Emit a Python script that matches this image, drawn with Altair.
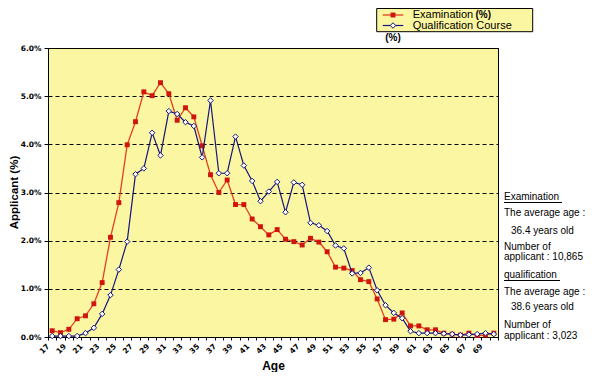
import altair as alt
import pandas as pd

ages = list(range(17, 71))
exam_pct = [0.13, 0.09, 0.16, 0.38, 0.44, 0.69, 1.13, 2.07, 2.79, 3.99,
            4.47, 5.09, 5.01, 5.28, 5.05, 4.50, 4.76, 4.57, 3.97, 3.37,
            3.00, 3.26, 2.75, 2.75, 2.45, 2.29, 2.12, 2.23, 2.03, 1.98,
            1.91, 2.05, 1.97, 1.77, 1.45, 1.43, 1.38, 1.19, 1.15, 0.79,
            0.36, 0.37, 0.50, 0.23, 0.23, 0.15, 0.15, 0.08, 0.06, 0.04,
            0.08, 0.03, 0.04, 0.08]
qual_pct = [0.02, 0.02, 0.02, 0.02, 0.08, 0.19, 0.48, 0.87, 1.40, 1.98,
            3.38, 3.50, 4.24, 3.77, 4.69, 4.63, 4.46, 4.38, 3.73, 4.91,
            3.40, 3.40, 4.16, 3.56, 3.24, 2.82, 3.02, 3.22, 2.59, 3.21,
            3.16, 2.37, 2.32, 2.20, 1.90, 1.84, 1.32, 1.33, 1.44, 0.97,
            0.66, 0.50, 0.39, 0.12, 0.08, 0.08, 0.08, 0.07, 0.06, 0.04,
            0.05, 0.06, 0.08, 0.06]
y_ticks = [0, 1, 2, 3, 4, 5, 6]
x_bounds = [a - 0.5 for a in range(17, 72)]

# side notes
note_text = ["Examination", "The average age :", "36.4 years old", "Number of",
             "applicant : 10,865", "qualification", "The average age :",
             "38.6 years old", "Number of", "applicant  : 3,023"]
note_x = [456, 456, 463, 456, 456, 456, 456, 463, 456, 456]
note_y = [149, 165, 182.7, 198.7, 209.3, 227, 244, 259, 277, 287.7]

YELLOW = "#FBF6A2"
RED_LINE = "#E4401E"
RED_MARK = "#D0140E"
NAVY = "#16167E"
FONT = "Liberation Sans"

df = pd.DataFrame({"age": ages, "exam": exam_pct, "qual": qual_pct})
notes = pd.DataFrame({"t": note_text, "px": note_x, "py": note_y})

x_enc = alt.X("age:Q",
              scale=alt.Scale(domain=[16.5, 70.5], nice=False, zero=False),
              axis=alt.Axis(values=x_bounds, title="Age",
                            labelExpr="(datum.value % 2 == 0.5 && datum.value < 70) ? '' + (datum.value + 0.5) : ''",
                            labelAngle=-45, labelAlign="right", labelBaseline="middle",
                            labelOverlap=False, labelFlush=False, labelPadding=5,
                            labelFont="DejaVu Sans", labelFontSize=7.5, labelFontWeight="bold",
                            labelColor="black", tickSize=3, tickColor="black",
                            domainColor="black", grid=False,
                            titleFont=FONT, titleFontSize=12, titleFontWeight="bold",
                            titleColor="black", titleY=32, titleBaseline="alphabetic"))


def y_enc(field):
    return alt.Y(f"{field}:Q",
                 scale=alt.Scale(domain=[0, 6], nice=False, zero=True),
                 axis=alt.Axis(values=y_ticks, title="Applicant (%)",
                               labelExpr="format(datum.value, '.1f') + '%'",
                               labelFont="DejaVu Sans", labelFontSize=7.5, labelFontWeight="bold",
                               labelColor="black", labelPadding=3, tickSize=4,
                               tickColor="black", domainColor="black",
                               grid=True, gridColor="black", gridDash=[4, 3], gridWidth=1,
                               titleFont=FONT, titleFontSize=11.5, titleFontWeight="bold",
                               titleColor="black", titleX=-33.5, titleY=144,
                               titleAngle=-90, titleAlign="center", titleBaseline="middle"))


base = alt.Chart(df)
exam_line = base.mark_line(color=RED_LINE, strokeWidth=1.3).encode(x=x_enc, y=y_enc("exam"))
exam_pts = base.mark_point(shape="square", filled=True, color=RED_MARK, size=24, opacity=1).encode(
    x=x_enc, y=y_enc("exam"))
qual_line = base.mark_line(color=NAVY, strokeWidth=1.2).encode(x=x_enc, y=y_enc("qual"))
qual_pts = base.mark_point(shape="diamond", filled=True, fill="white", stroke=NAVY,
                           strokeWidth=1, size=30, opacity=1).encode(x=x_enc, y=y_enc("qual"))

one = alt.Data(values=[{}])

note_layer = alt.Chart(notes).mark_text(align="left", baseline="middle", font=FONT,
                                        fontSize=10, color="black").encode(
    x=alt.X("px:Q", scale=None), y=alt.Y("py:Q", scale=None), text="t:N")
ul1 = alt.Chart(one).mark_rule(color="black", strokeWidth=1).encode(
    x=alt.value(456), x2=alt.value(514), y=alt.value(154.5))
ul2 = alt.Chart(one).mark_rule(color="black", strokeWidth=1).encode(
    x=alt.value(456), x2=alt.value(512), y=alt.value(232.5))

# legend box
leg_box = alt.Chart(one).mark_rect(fill=YELLOW, stroke="black", strokeWidth=1).encode(
    x=alt.value(328.7), x2=alt.value(484.7), y=alt.value(-39.5), y2=alt.value(-16.3))
leg_l1 = alt.Chart(one).mark_rule(color=RED_LINE, strokeWidth=1.3).encode(
    x=alt.value(334.7), x2=alt.value(355.3), y=alt.value(-33))
leg_p1 = alt.Chart(one).mark_point(shape="square", filled=True, color=RED_MARK, size=24, opacity=1).encode(
    x=alt.value(345), y=alt.value(-33))
leg_l2 = alt.Chart(one).mark_rule(color=NAVY, strokeWidth=1.2).encode(
    x=alt.value(334.7), x2=alt.value(355.3), y=alt.value(-22.5))
leg_p2 = alt.Chart(one).mark_point(shape="diamond", filled=True, fill="white", stroke=NAVY,
                                   strokeWidth=1, size=30, opacity=1).encode(
    x=alt.value(345), y=alt.value(-22.5))
leg_t1 = alt.Chart(one).mark_text(text="Examination", align="left", baseline="middle", font=FONT,
                                  fontSize=11, color="black").encode(x=alt.value(364.7), y=alt.value(-33))
leg_t1b = alt.Chart(one).mark_text(text="(%)", align="left", baseline="middle", font=FONT,
                                   fontSize=10, fontWeight="bold", color="black").encode(
    x=alt.value(427.5), y=alt.value(-33))
leg_t2 = alt.Chart(one).mark_text(text="Qualification Course", align="left", baseline="middle", font=FONT,
                                  fontSize=11, color="black").encode(x=alt.value(364.7), y=alt.value(-22.5))
leg_t3 = alt.Chart(one).mark_text(text="(%)", align="center", baseline="middle", font=FONT,
                                  fontSize=10, fontWeight="bold", color="black").encode(
    x=alt.value(345), y=alt.value(-10.2))

chart = alt.layer(
    exam_line, exam_pts, qual_line, qual_pts,
    note_layer, ul1, ul2,
    leg_box, leg_l1, leg_p1, leg_l2, leg_p2, leg_t1, leg_t1b, leg_t2, leg_t3,
).properties(
    width=450, height=289,
    autosize=alt.AutoSizeParams(type="none"),
    padding={"left": 40, "top": 40, "right": 91, "bottom": 35},
    background="white",
).configure_view(
    fill=YELLOW, stroke="black", strokeWidth=1
)

chart.save("out.html", embed_options={"renderer": "svg", "actions": False})
